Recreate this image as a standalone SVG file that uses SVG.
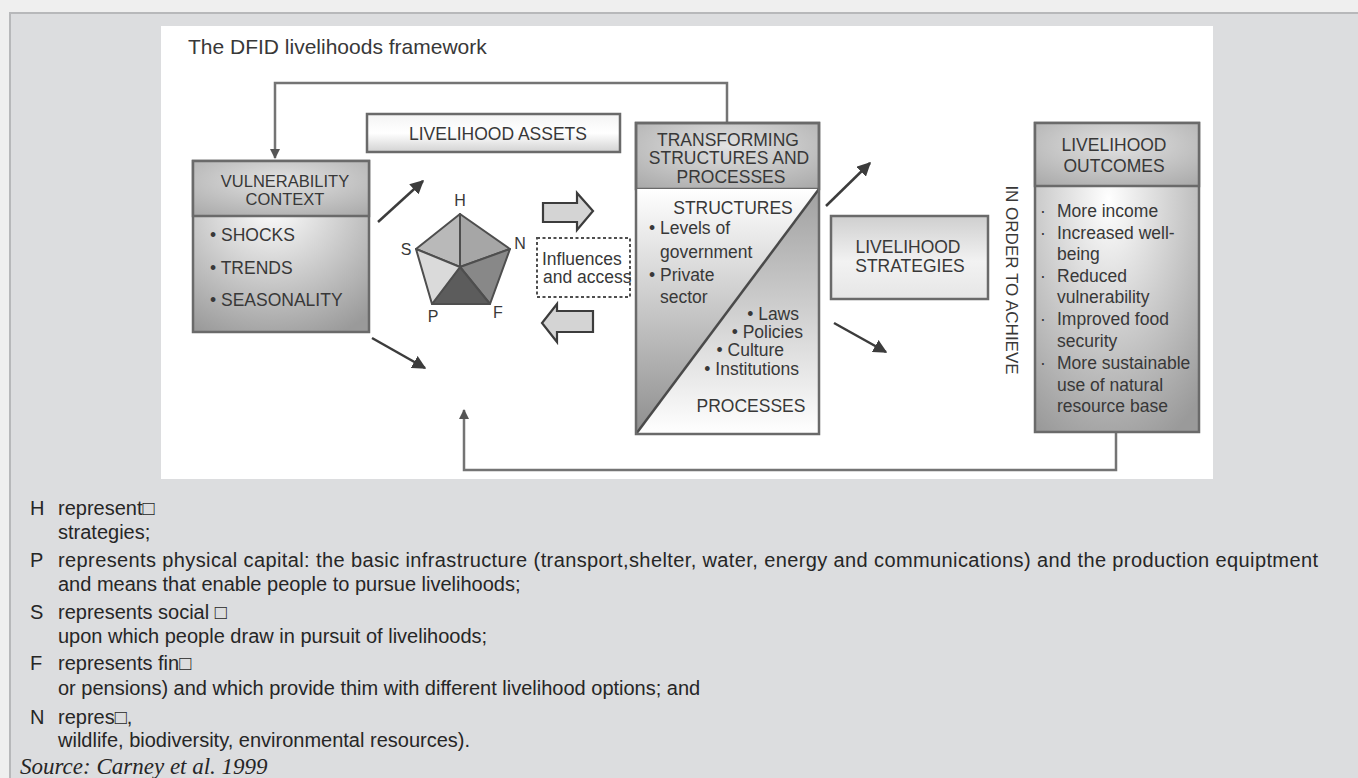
<svg xmlns="http://www.w3.org/2000/svg" width="1358" height="778" viewBox="0 0 1358 778">
<defs>
<style>
.f{font-family:"Liberation Sans",Arial,Helvetica,sans-serif;fill:#383838;font-size:17.5px}
.t{font-size:21px}
.lab{font-size:16px}
.hd{font-size:16.5px}
.c{text-anchor:middle}
.r{text-anchor:end}
.b{font-family:"Liberation Sans",Arial,sans-serif;fill:#262626;font-size:20px}
.src{font-family:"Liberation Serif","Times New Roman",serif;font-style:italic;fill:#262626;font-size:23px}
.box{stroke:#6a6a6a;stroke-width:2.5}
.conn{fill:none;stroke:#747474;stroke-width:2.5}
.arr{fill:none;stroke:#3c3c3c;stroke-width:2.5}
.hollow{fill:#d4d4d4;stroke:#3c3c3c;stroke-width:2.2}
.pent{stroke:#4e4e4e;stroke-width:2;stroke-linejoin:round}
</style>
<marker id="ah" viewBox="0 0 10 10" refX="9" refY="5" markerWidth="5.5" markerHeight="5.5" orient="auto" markerUnits="strokeWidth"><path d="M0,0 L10,5 L0,10 Z" fill="#3c3c3c"/></marker>
<marker id="fh" viewBox="0 0 10 10" refX="9" refY="5" markerWidth="4" markerHeight="4" orient="auto" markerUnits="strokeWidth"><path d="M0,0 L10,5 L0,10 Z" fill="#555"/></marker>
<radialGradient id="gBody" cx="0.45" cy="0.25" r="0.85"><stop offset="0" stop-color="#ffffff"/><stop offset="1" stop-color="#9a9a9a"/></radialGradient>
<radialGradient id="gHead" cx="0.5" cy="0.35" r="0.8"><stop offset="0" stop-color="#e2e2e2"/><stop offset="1" stop-color="#a9a9a9"/></radialGradient>
<linearGradient id="gLight" x1="0" y1="0" x2="0" y2="1"><stop offset="0" stop-color="#f4f4f4"/><stop offset="0.5" stop-color="#ffffff"/><stop offset="1" stop-color="#d2d2d2"/></linearGradient>
<linearGradient id="gStrat" x1="0" y1="0" x2="0" y2="1"><stop offset="0" stop-color="#cfcfcf"/><stop offset="0.55" stop-color="#f2f2f2"/><stop offset="1" stop-color="#e6e6e6"/></linearGradient>
<linearGradient id="gTri1" x1="0" y1="0" x2="0" y2="1"><stop offset="0" stop-color="#ffffff"/><stop offset="1" stop-color="#8e8e8e"/></linearGradient>
<linearGradient id="gTri2" x1="0" y1="0" x2="0" y2="1"><stop offset="0" stop-color="#a0a0a0"/><stop offset="1" stop-color="#ffffff"/></linearGradient>
</defs>

<rect x="0" y="0" width="1358" height="778" fill="#efefef"/>
<rect x="10" y="13" width="1360" height="780" fill="#dcdddf" stroke="#b7b8ba" stroke-width="2"/>
<rect x="161" y="26" width="1052" height="453" fill="#ffffff"/>

<text class="f t" x="188" y="54">The DFID livelihoods framework</text>

<g id="connectors">
<polyline class="conn" points="727,123 727,83 275,83 275,158" marker-end="url(#fh)"/>
<polyline class="conn" points="1116,432 1116,470 464,470 464,410" marker-end="url(#fh)"/>
<line class="arr" x1="378" y1="222" x2="423" y2="181" marker-end="url(#ah)"/>
<line class="arr" x1="372" y1="338" x2="425" y2="368" marker-end="url(#ah)"/>
<line class="arr" x1="826" y1="206" x2="870" y2="163" marker-end="url(#ah)"/>
<line class="arr" x1="834" y1="323" x2="886" y2="352" marker-end="url(#ah)"/>
<path class="hollow" d="M543,203 H577 V193 L593,211 L577,230 V222 H543 Z"/>
<path class="hollow" d="M593,311 H557 V304 L542,323 L557,342 V332 H593 Z"/>
</g>

<g id="vulnerability">
<rect class="box" x="193" y="161" width="176" height="171" fill="url(#gBody)"/>
<rect class="box" x="193" y="161" width="176" height="55" fill="url(#gHead)"/>
<text class="f hd c" x="285" y="187">VULNERABILITY</text>
<text class="f hd c" x="285" y="205">CONTEXT</text>
<text class="f" x="210" y="241">• SHOCKS</text>
<text class="f" x="210" y="274">• TRENDS</text>
<text class="f" x="210" y="306">• SEASONALITY</text>
</g>

<g id="assets">
<rect class="box" x="367" y="114" width="253" height="38" fill="url(#gLight)"/>
<text class="f c" x="498" y="140">LIVELIHOOD ASSETS</text>
</g>

<g id="pentagon">
<polygon class="pent" points="460,214 416,249 460,267" fill="#b9b9b9"/>
<polygon class="pent" points="460,214 510,249 460,267" fill="#a6a6a6"/>
<polygon class="pent" points="510,249 490,304 460,267" fill="#888888"/>
<polygon class="pent" points="490,304 432,304 460,267" fill="#5c5c5c"/>
<polygon class="pent" points="432,304 416,249 460,267" fill="#dadada"/>
<text class="f lab c" x="460" y="206">H</text>
<text class="f lab c" x="406" y="255">S</text>
<text class="f lab c" x="520" y="249">N</text>
<text class="f lab c" x="433" y="322">P</text>
<text class="f lab c" x="498" y="318">F</text>
</g>

<g id="influences">
<rect x="537" y="238" width="93" height="59" fill="none" stroke="#4e4e4e" stroke-width="2" stroke-dasharray="3 2.5"/>
<text class="f" x="542" y="265">Influences</text>
<text class="f" x="543" y="283">and access</text>
</g>

<g id="transforming">
<rect class="box" x="636" y="123" width="183" height="66" fill="url(#gHead)"/>
<polygon points="636,189 819,189 636,434" fill="url(#gTri1)"/>
<polygon points="819,189 819,434 636,434" fill="url(#gTri2)"/>
<line x1="819" y1="189" x2="636" y2="434" stroke="#4a4a4a" stroke-width="2.5"/>
<rect class="box" x="636" y="123" width="183" height="311" fill="none"/>
<text class="f c" x="728" y="146">TRANSFORMING</text>
<text class="f c" x="729" y="164">STRUCTURES AND</text>
<text class="f c" x="731" y="183">PROCESSES</text>
<text class="f c" x="733" y="214">STRUCTURES</text>
<text class="f" x="649" y="234">• Levels of</text>
<text class="f" x="660" y="258">government</text>
<text class="f" x="649" y="281">• Private</text>
<text class="f" x="660" y="303">sector</text>
<text class="f r" x="799" y="320">• Laws</text>
<text class="f r" x="803" y="338">• Policies</text>
<text class="f r" x="784" y="356">• Culture</text>
<text class="f r" x="799" y="375">• Institutions</text>
<text class="f c" x="751" y="412">PROCESSES</text>
</g>

<g id="strategies">
<rect class="box" x="831" y="216" width="157" height="83" fill="url(#gStrat)"/>
<text class="f c" x="908" y="253">LIVELIHOOD</text>
<text class="f c" x="910" y="272">STRATEGIES</text>
</g>

<g id="inorder">
<text class="f c" style="font-size:17px" transform="translate(1006,280) rotate(90)">IN ORDER TO ACHIEVE</text>
</g>

<g id="outcomes">
<rect class="box" x="1035" y="123" width="164" height="309" fill="url(#gBody)"/>
<rect class="box" x="1035" y="123" width="164" height="63" fill="url(#gHead)"/>
<text class="f c" x="1114" y="151">LIVELIHOOD</text>
<text class="f c" x="1114" y="172">OUTCOMES</text>
<text class="f" x="1040" y="217">·</text>
<text class="f" x="1040" y="239">·</text>
<text class="f" x="1040" y="282">·</text>
<text class="f" x="1040" y="325">·</text>
<text class="f" x="1040" y="369">·</text>
<text class="f" x="1057" y="217">More income</text>
<text class="f" x="1057" y="239">Increased well-</text>
<text class="f" x="1057" y="260">being</text>
<text class="f" x="1057" y="282">Reduced</text>
<text class="f" x="1057" y="303">vulnerability</text>
<text class="f" x="1057" y="325">Improved food</text>
<text class="f" x="1057" y="347">security</text>
<text class="f" x="1057" y="369">More sustainable</text>
<text class="f" x="1057" y="391">use of natural</text>
<text class="f" x="1057" y="412">resource base</text>
</g>

<g id="legend">
<text class="b" x="30" y="515">H</text>
<text class="b" x="58" y="515">represent□</text>
<text class="b" x="58" y="539">strategies;</text>
<text class="b" x="30" y="567">P</text>
<text class="b" x="58" y="567" textLength="1260" lengthAdjust="spacing">represents physical capital: the basic infrastructure (transport,shelter, water, energy and communications) and the production equiptment</text>
<text class="b" x="58" y="591">and means that enable people to pursue livelihoods;</text>
<text class="b" x="30" y="619">S</text>
<text class="b" x="58" y="619">represents social □</text>
<text class="b" x="58" y="643">upon which people draw in pursuit of livelihoods;</text>
<text class="b" x="30" y="670">F</text>
<text class="b" x="58" y="670">represents fin□</text>
<text class="b" x="58" y="695">or pensions) and which provide thim with different livelihood options; and</text>
<text class="b" x="30" y="724">N</text>
<text class="b" x="58" y="724">repres□,</text>
<text class="b" x="58" y="747">wildlife, biodiversity, environmental resources).</text>
<text class="src" x="20" y="774">Source: Carney et al. 1999</text>
</g>
</svg>
